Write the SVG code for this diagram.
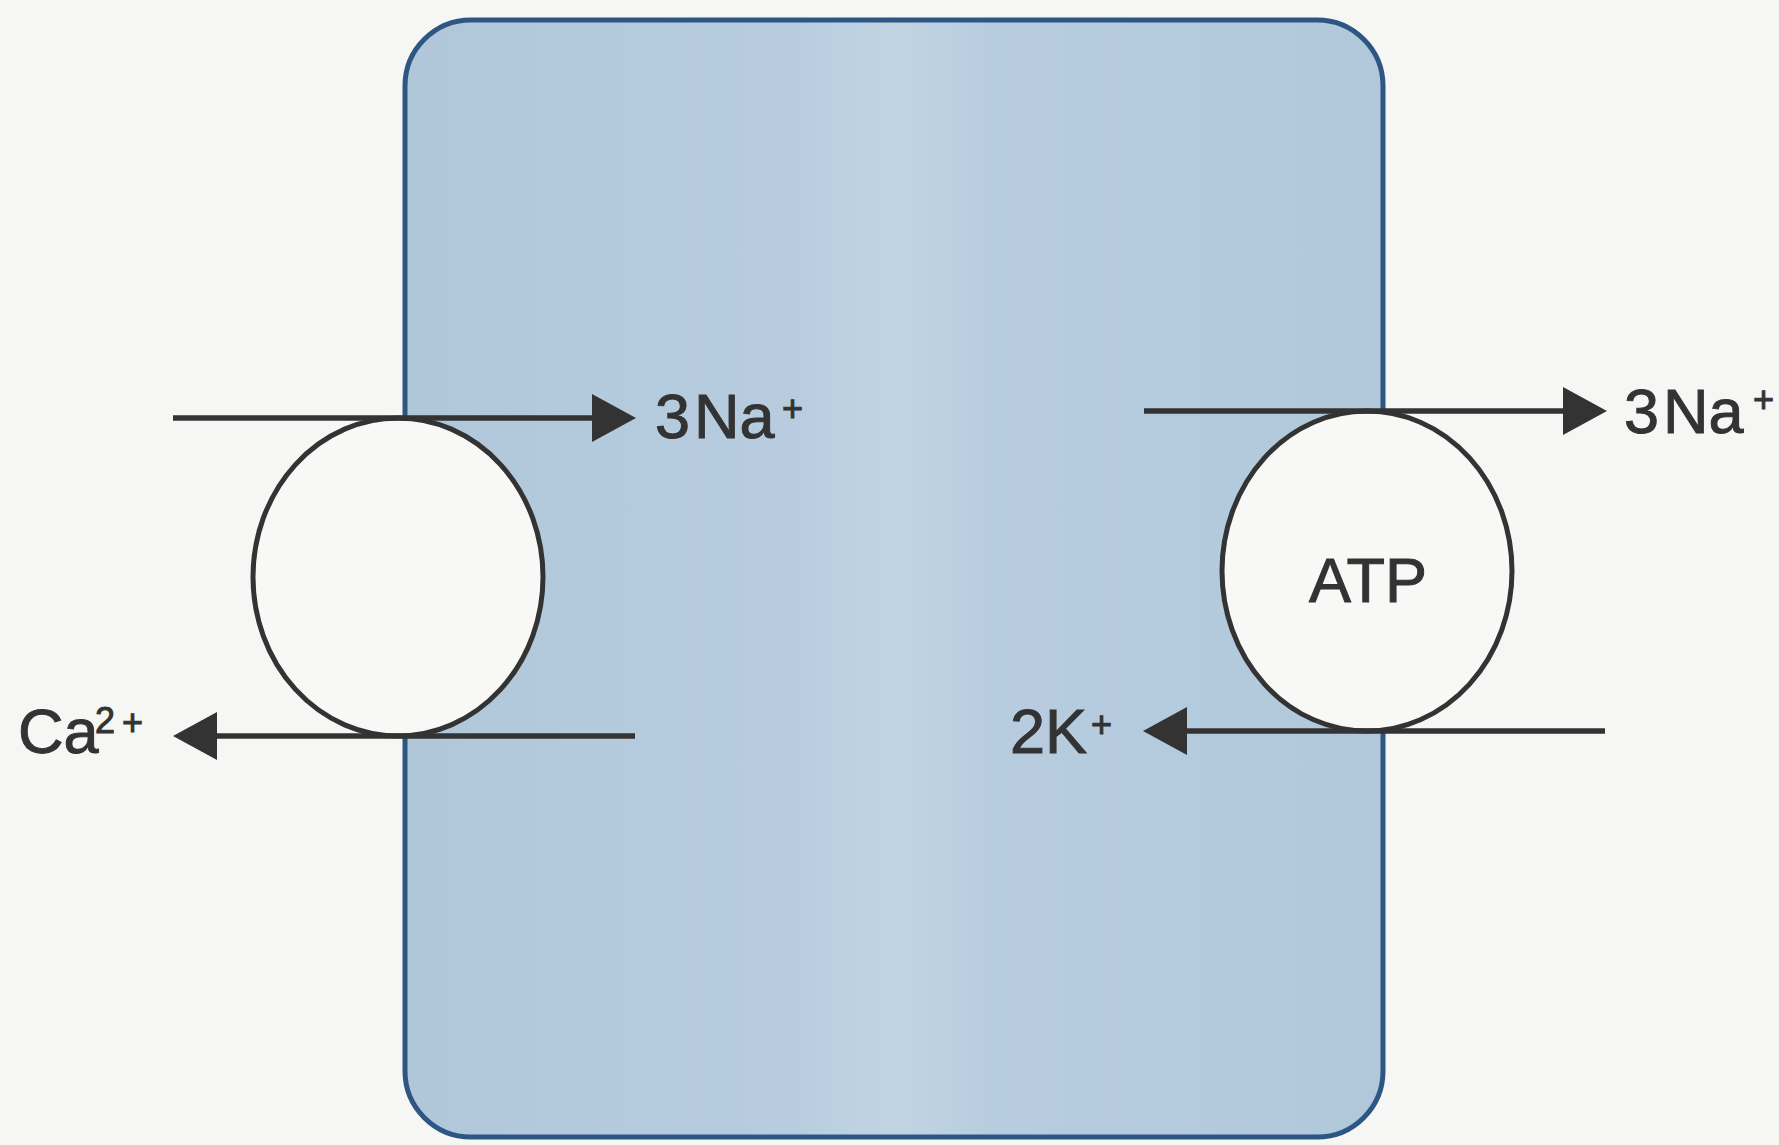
<svg xmlns="http://www.w3.org/2000/svg" width="1779" height="1145" viewBox="0 0 1779 1145">
  <defs>
    <linearGradient id="cellFill" x1="0" y1="0" x2="1" y2="0">
      <stop offset="0" stop-color="#b0c7da"/>
      <stop offset="0.4" stop-color="#b7cddf"/>
      <stop offset="0.5" stop-color="#c1d4e3"/>
      <stop offset="0.6" stop-color="#b7cddf"/>
      <stop offset="1" stop-color="#b1c8db"/>
    </linearGradient>
    <marker id="arrow" viewBox="0 0 44 48" refX="3" refY="24" markerWidth="44" markerHeight="48" markerUnits="userSpaceOnUse" orient="auto">
      <path d="M0,0 L44,24 L0,48 Z" fill="#333333"/>
    </marker>
  </defs>
  <style>
    .bg { fill: #f6f6f4; }
    .cell { fill: url(#cellFill); stroke: #2e5683; stroke-width: 5; }
    .carrier { fill: #f8f8f6; stroke: #333333; stroke-width: 5; }
    .flow { stroke: #333333; stroke-width: 5.5; fill: none; marker-end: url(#arrow); }
    .lbl { font-family: "Liberation Sans", Arial, sans-serif; fill: #333333; stroke: #333333; stroke-width: 1; font-size: 63px; }
    .sup { font-size: 36px; }
  </style>
  <rect class="bg" x="0" y="0" width="1779" height="1145"/>

  <g id="cell">
    <rect class="cell" x="405" y="20" width="978" height="1117" rx="66" ry="66"/>
  </g>

  <g id="exchanger">
    <ellipse class="carrier" cx="398" cy="577" rx="145" ry="159"/>
  </g>

  <g id="pump">
    <ellipse class="carrier" cx="1367" cy="571" rx="145" ry="160"/>
    <text class="lbl" x="1368" y="602" text-anchor="middle" font-size="66">ATP</text>
  </g>

  <g id="connectors">
    <line class="flow" x1="173" y1="418" x2="595" y2="418"/>
    <line class="flow" x1="635" y1="736" x2="214" y2="736"/>
    <line class="flow" x1="1144" y1="411" x2="1566" y2="411"/>
    <line class="flow" x1="1605" y1="731" x2="1184" y2="731"/>
  </g>

  <g id="label-na-left">
    <text class="lbl" y="438"><tspan x="655">3</tspan><tspan x="694">Na</tspan><tspan class="sup" x="782" y="421">+</tspan></text>
  </g>
  <g id="label-na-right">
    <text class="lbl" y="433"><tspan x="1624">3</tspan><tspan x="1663">Na</tspan><tspan class="sup" x="1753" y="412">+</tspan></text>
  </g>
  <g id="label-ca">
    <text class="lbl" y="753"><tspan x="18">Ca</tspan><tspan class="sup" x="95" y="733" font-size="34">2</tspan><tspan class="sup" x="122" y="735" font-size="42">+</tspan></text>
  </g>
  <g id="label-k">
    <text class="lbl" y="753"><tspan x="1010">2K</tspan><tspan class="sup" x="1091" y="737" font-size="40">+</tspan></text>
  </g>
</svg>
